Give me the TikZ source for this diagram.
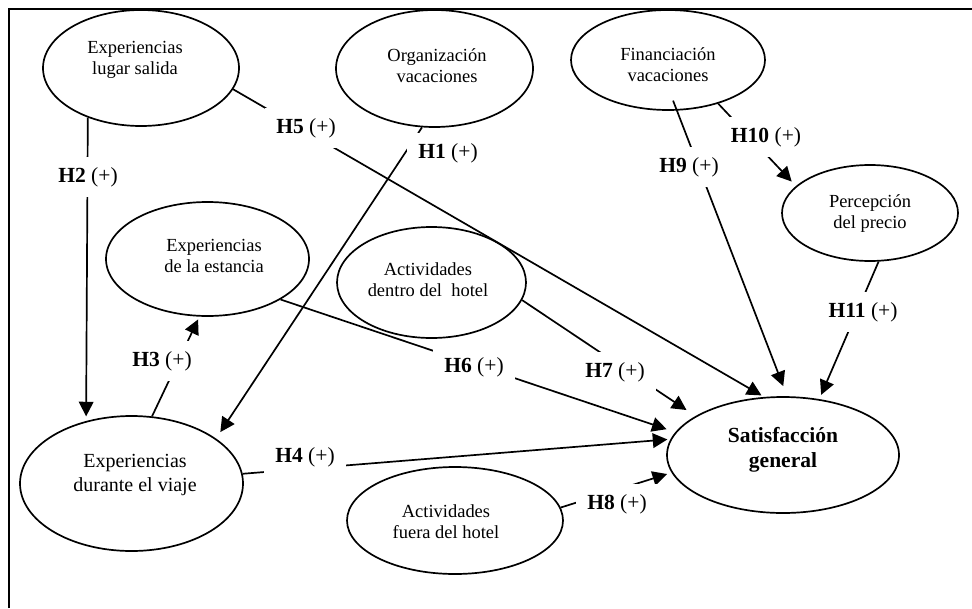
\documentclass[tikz,border=0pt]{standalone}
\usepackage{fontspec}
\setmainfont{Liberation Serif}
\usepackage{tikz}
\usetikzlibrary{arrows.meta,shapes}

\tikzset{
  construct/.style 2 args={draw, ellipse, line width=1.1pt, inner sep=0pt,
    minimum width=#1*0.65pt, minimum height=#2*0.65pt},
  ctext/.style={align=center, inner sep=0pt, font=\fontsize{12}{13.6}\selectfont},
  hyplabel/.style={fill=white, inner xsep=7.5pt, inner ysep=6.5pt, font=\fontsize{14}{16}\selectfont}
}

\begin{document}
\begin{tikzpicture}[
    x=0.65pt, y=-0.65pt, % one unit is one pixel, y runs downwards
    hyp/.style={line width=1.1pt, -{Triangle[length=9.5pt, width=9.5pt]}}, % hypothesis arrow
    frame/.style={line width=1.3pt}
]
    \useasboundingbox (0,0) rectangle (972,608);
    \draw[frame] (9,608) -- (9,9) -- (972,9);

    % Define constructs
    \node[construct={196}{116}] (lugar) at (141,68) {};
    \node[construct={197}{117}] (org) at (434.5,68.5) {};
    \node[construct={194}{100}] (fin) at (668,60) {};
    \node[construct={176}{96}] (precio) at (870,213) {};
    \node[construct={203}{114}] (estancia) at (207.5,259) {};
    \node[construct={189}{111}] (dentro) at (431.5,282.5) {};
    \node[construct={223}{135}] (viaje) at (131.5,483.5) {};
    \node[construct={216}{107}] (fuera) at (455,520.5) {};
    \node[construct={232}{116}] (satis) at (783,455) {};

    % Texts inside the constructs
    \node[ctext] (lugar-t) at (135,60) {Experiencias\\lugar salida};
    \node[ctext] (org-t) at (437,65.5) {Organización\\vacaciones};
    \node[ctext] (fin-t) at (668,64.5) {Financiación\\vacaciones};
    \node[ctext] (precio-t) at (870,214) {Percepción\\del precio};
    \node[ctext] (estancia-t) at (214,256) {Experiencias\\de la estancia};
    \node[ctext] (dentro-t) at (428,279.5) {Actividades\\dentro del~ hotel};
    \node[ctext, font=\fontsize{13}{15}\selectfont] (viaje-t) at (135,475) {Experiencias\\durante el viaje};
    \node[ctext] (fuera-t) at (446,521.5) {Actividades\\fuera del hotel};
    \node[ctext, font=\fontsize{14}{16.2}\selectfont\bfseries] (satis-t) at (783,449.5) {Satisfacción\\general};

    % Draw hypotheses
    \draw[hyp, shorten >=3pt] (lugar.223) -- (viaje.126);    % H2
    \draw[hyp, shorten >=2pt] (lugar.-13) -- (satis.108);    % H5
    \draw[hyp, shorten >=5pt] (org.-102) -- (viaje.28);      % H1
    \draw[hyp, shorten >=2pt] (viaje.73) -- (estancia.262);  % H3
    \draw[hyp, shorten >=6pt] (estancia.-29) -- (satis.168); % H6
    \draw[hyp, shorten >=7pt] (dentro.-11) -- (satis.156);   % H7
    \draw[hyp, shorten >=2pt] (viaje.5) -- (satis.172);      % H4
    \draw[hyp, shorten >=3pt] (fuera.7) -- (satis.189);      % H8
    \draw[hyp, shorten <=-7pt, shorten >=7pt] (fin.-80) -- (satis.86); % H9
    \draw[hyp, shorten >=4pt] (fin.-41) -- (precio.160);     % H10
    \draw[hyp, shorten >=3pt] (precio.-80) -- (satis.57);    % H11

    % Hypothesis labels (white boxes cut the lines)
    \node[hyplabel] (h1) at (448,153) {\textbf{H1} (+)};
    \node[hyplabel] (h2) at (88,177) {\textbf{H2} (+)};
    \node[hyplabel] (h3) at (162,361) {\textbf{H3} (+)};
    \node[hyplabel] (h4) at (305,457) {\textbf{H4} (+)};
    \node[hyplabel] (h5) at (306,128) {\textbf{H5} (+)};
    \node[hyplabel] (h6) at (474,367) {\textbf{H6} (+)};
    \node[hyplabel] (h7) at (615,372) {\textbf{H7} (+)};
    \node[hyplabel] (h8) at (617,504) {\textbf{H8} (+)};
    \node[hyplabel] (h9) at (689,167) {\textbf{H9} (+)};
    \node[hyplabel] (h10) at (766,137) {\textbf{H10} (+)};
    \node[hyplabel] (h11) at (863,312) {\textbf{H11} (+)};

\end{tikzpicture}
\end{document}
